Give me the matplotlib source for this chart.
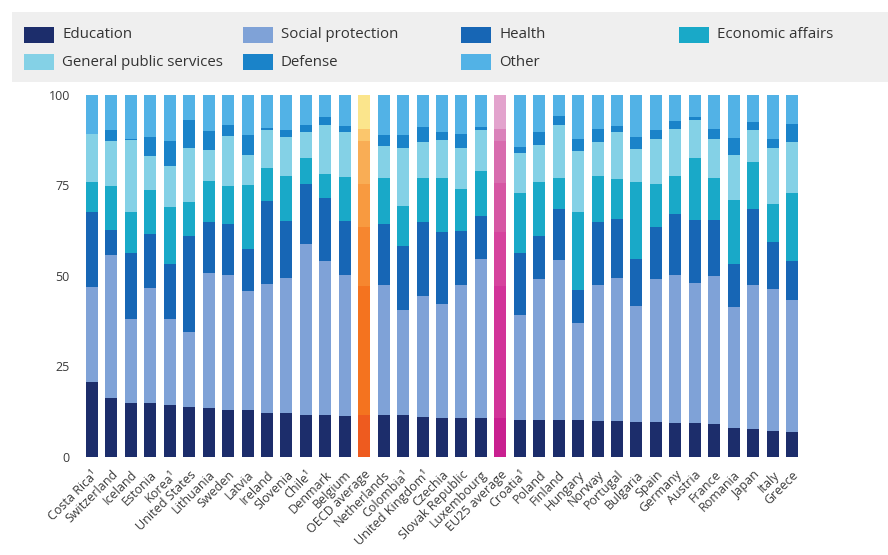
import numpy as np
import matplotlib
matplotlib.use("Agg")
import matplotlib.pyplot as plt
from matplotlib.patches import Rectangle

plt.rcParams['font.family'] = ['Open Sans', 'DejaVu Sans']

countries = ["Costa Rica¹", "Switzerland", "Iceland", "Estonia", "Korea¹", "United States",
             "Lithuania", "Sweden", "Latvia", "Ireland", "Slovenia", "Chile¹", "Denmark",
             "Belgium", "OECD average", "Netherlands", "Colombia¹", "United Kingdom¹",
             "Czechia", "Slovak Republic", "Luxembourg", "EU25 average", "Croatia¹", "Poland",
             "Finland", "Hungary", "Norway", "Portugal", "Bulgaria", "Spain", "Germany",
             "Austria", "France", "Romania", "Japan", "Italy", "Greece"]

education = [20.8, 16.2, 14.8, 14.8, 14.4, 13.9, 13.4, 13.0, 13.0, 12.2, 12.1, 11.6, 11.6,
             11.4, 11.6, 11.6, 11.6, 11.1, 10.7, 10.7, 10.7, 10.7, 10.2, 10.2, 10.2, 10.2,
             10.0, 9.8, 9.6, 9.6, 9.3, 9.3, 9.1, 8.1, 7.6, 7.2, 6.8]
social_protection = [26.2, 39.6, 23.2, 31.9, 23.7, 20.7, 37.3, 37.3, 32.9, 35.6, 37.3, 47.2,
                     42.5, 38.9, 35.5, 35.9, 29.0, 33.4, 31.5, 36.8, 43.9, 36.4, 29.0, 38.9,
                     44.2, 26.7, 37.5, 39.7, 32.1, 39.5, 41.0, 38.7, 40.7, 33.2, 39.9, 39.1, 36.4]
health = [20.5, 6.7, 18.3, 14.8, 15.2, 26.5, 14.0, 14.1, 11.5, 22.7, 15.8, 16.5, 17.4, 14.7,
          16.3, 16.9, 17.7, 20.2, 19.9, 14.9, 12.0, 15.1, 17.1, 11.9, 14.0, 9.2, 17.2, 16.2,
          13.0, 14.3, 16.8, 17.3, 15.5, 11.9, 20.9, 12.9, 11.0]
economic_affairs = [8.3, 12.2, 11.3, 12.1, 15.6, 9.2, 11.4, 10.3, 17.5, 9.2, 12.4, 7.2, 6.6,
                    12.3, 11.9, 12.6, 10.9, 12.2, 14.8, 11.5, 12.4, 13.4, 16.5, 14.9, 8.6,
                    21.4, 12.9, 11.0, 21.1, 12.0, 10.5, 17.2, 11.7, 17.6, 12.9, 10.6, 18.6]
general_public = [13.2, 12.6, 19.8, 9.5, 11.5, 15.0, 8.5, 13.8, 8.5, 10.4, 10.7, 7.2, 13.4,
                  12.4, 12.0, 8.9, 16.1, 10.0, 10.5, 11.4, 11.1, 11.5, 11.1, 10.1, 14.7, 17.0,
                  9.3, 13.0, 9.2, 12.4, 13.0, 10.4, 10.8, 12.6, 8.8, 15.5, 14.1]
defense = [0.0, 2.8, 0.4, 5.2, 6.9, 7.8, 5.3, 3.2, 5.3, 0.7, 2.0, 1.8, 2.2, 1.6, 3.2, 2.9,
           3.5, 4.1, 2.2, 3.8, 0.9, 3.3, 1.6, 3.6, 2.5, 3.1, 3.6, 1.7, 3.2, 2.5, 2.2, 0.8,
           2.8, 4.6, 2.3, 2.3, 5.0]
other = [11.0, 9.9, 12.2, 11.7, 12.7, 6.9, 10.1, 8.3, 11.3, 9.2, 9.7, 8.5, 6.3, 8.7, 9.5,
         11.2, 11.2, 9.0, 10.4, 10.9, 9.0, 9.6, 14.5, 10.4, 5.8, 12.4, 9.5, 8.6, 11.8, 9.7,
         7.2, 6.3, 9.4, 12.0, 7.6, 12.4, 8.1]

series = [("Education", education), ("Social protection", social_protection),
          ("Health", health), ("Economic affairs", economic_affairs),
          ("General public services", general_public), ("Defense", defense),
          ("Other", other)]

colors = ["#1c2d6b", "#7fa2d7", "#1766b5", "#19a9c8", "#84d1e6", "#1a83c9", "#52b2e6"]
oecd_colors = ["#ee5b1f", "#f4731f", "#f6862f", "#f89a40", "#f9ad55", "#fbc66c", "#fbe58c"]
eu_colors = ["#c92090", "#d23399", "#d6439d", "#d656a3", "#d86cae", "#da82ba", "#e3a3cd"]
special = {"OECD average": oecd_colors, "EU25 average": eu_colors}

fig = plt.figure(figsize=(8.88, 5.55), dpi=100)
fig.patch.set_facecolor("white")

# legend band
fig.patches.append(Rectangle((12 / 888, 1 - 82 / 555), 1, 70 / 555, transform=fig.transFigure,
                             facecolor="#efefef", edgecolor="none", zorder=0))

ax = fig.add_axes([82.3 / 888, 1 - 457 / 555, 719.4 / 888, 362.5 / 555])
x = np.arange(len(countries))
bottom = np.zeros(len(countries))
for i, (name, vals) in enumerate(series):
    vals = np.array(vals)
    cols = [special[c][i] if c in special else colors[i] for c in countries]
    ax.bar(x, vals, width=0.62, bottom=bottom, color=cols, linewidth=0)
    bottom += vals

ax.set_xlim(-0.5, len(countries) - 0.5)
ax.set_ylim(0, 100)
ax.set_yticks([0, 25, 50, 75, 100])
ax.set_xticks(x)
ax.set_xticklabels(countries, rotation=45, ha="right", rotation_mode="anchor",
                   fontsize=9, color="#3a3a3a")
ax.tick_params(axis="x", length=0, pad=8)
ax.tick_params(axis="y", length=0, labelsize=9, labelcolor="#3a3a3a", pad=9)
for s in ax.spines.values():
    s.set_visible(False)

# legend entries drawn by hand
col_x = [24, 243, 461, 679]
row_y = [35, 62]
layout = [(0, 0), (0, 1), (0, 2), (0, 3), (1, 0), (1, 1), (1, 2)]
for (name, _), col, (r, c) in zip(series, colors, layout):
    px, py = col_x[c], row_y[r]
    fig.text((px + 38) / 888, 1 - py / 555, name, fontsize=10.8, color="#333333",
             va="center", ha="left")
    fig.patches.append(Rectangle((px / 888, 1 - (py + 8) / 555), 30 / 888, 16 / 555,
                                 transform=fig.transFigure, facecolor=col,
                                 edgecolor="none"))

fig.savefig("out.png", dpi=100)
